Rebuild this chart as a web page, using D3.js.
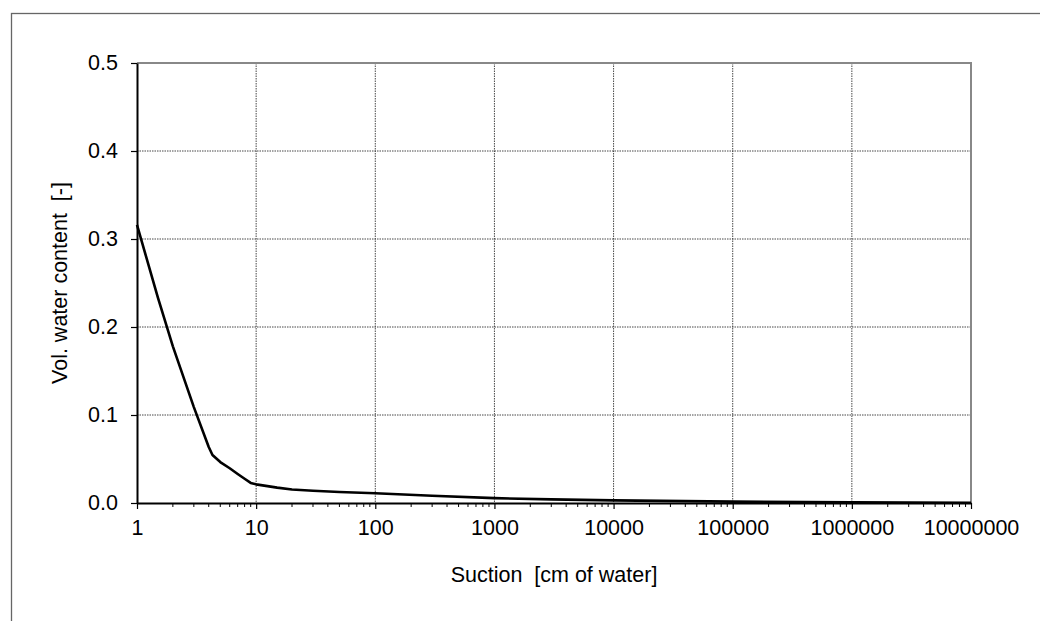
<!DOCTYPE html>
<html>
<head>
<meta charset="utf-8">
<script src="https://cdn.jsdelivr.net/npm/d3@7"></script>
<style>
  body { margin: 0; background: #fff; }
  text { font-family: "Liberation Sans", Arial, sans-serif; fill: #000; white-space: pre; }
</style>
</head>
<body>
<div id="chart"></div>
<script>
'use strict';

// suction [cm of water] and vol. water content [-]
var suction = [1, 1.5, 2, 3, 4, 4.3, 5, 6, 7, 8, 9, 10, 15, 20, 30, 50, 100, 300, 1000, 3000, 10000, 100000, 1000000, 10000000];
var theta   = [0.316, 0.233, 0.178, 0.109, 0.0636, 0.0545, 0.0465, 0.0395, 0.033, 0.0275, 0.0228, 0.0212, 0.0175, 0.0153, 0.014, 0.0125, 0.011, 0.0083, 0.0055, 0.0041, 0.003, 0.0016, 0.0008, 0.0002];
var yTicks  = [0, 0.1, 0.2, 0.3, 0.4, 0.5];
var xTicks  = [1, 10, 100, 1000, 10000, 100000, 1000000, 10000000];

function PlotRetention(config) {
	var domNode   = config.domNode;
	var svgWidth  = config.width;
	var svgHeight = config.height;
	var margin    = config.margin;
	var fontSize  = config.fontSize;

	var svg = d3.select(domNode)
		.append('svg')
		.attr('width', svgWidth)
		.attr('height', svgHeight);

	// outer chart frame
	svg.append('rect')
		.attr('x', 11.5).attr('y', 13.5)
		.attr('width', 1100).attr('height', 700)
		.attr('fill', 'none')
		.attr('stroke', '#666')
		.attr('stroke-width', 1.3);

	var width  = svgWidth - margin.left - margin.right,
		height = svgHeight - margin.top - margin.bottom;

	var g = svg.append('g').attr('transform', 'translate(' + [margin.left, margin.top] + ')');

	var x = d3.scaleLog().domain([1, 1e7]).range([0, width]);
	var y = d3.scaleLinear().domain([0, 0.5]).range([height, 0]);

	// grid
	g.selectAll('.vgrid')
		.data(xTicks.slice(1, -1))
		.enter().append('line')
		.attr('x1', function(d) { return x(d); })
		.attr('x2', function(d) { return x(d); })
		.attr('y1', 0).attr('y2', height)
		.attr('stroke', '#333')
		.attr('stroke-width', 0.9)
		.attr('stroke-dasharray', '1.5,1');

	g.selectAll('.hgrid')
		.data(yTicks.slice(1, -1))
		.enter().append('line')
		.attr('x1', 0).attr('x2', width)
		.attr('y1', function(d) { return y(d); })
		.attr('y2', function(d) { return y(d); })
		.attr('stroke', '#333')
		.attr('stroke-width', 0.9)
		.attr('stroke-dasharray', '1.5,1');

	// plot area top / right border
	g.append('path')
		.attr('d', 'M0,0H' + width + 'V' + height)
		.attr('fill', 'none')
		.attr('stroke', '#888')
		.attr('stroke-width', 2);

	// minor ticks on x
	var minor = [];
	xTicks.slice(0, -1).forEach(function(p) {
		for (var k = 2; k <= 9; k++) minor.push(p * k);
	});
	g.selectAll('.minor')
		.data(minor)
		.enter().append('line')
		.attr('x1', function(d) { return x(d); })
		.attr('x2', function(d) { return x(d); })
		.attr('y1', height).attr('y2', height + 4)
		.attr('stroke', '#000')
		.attr('stroke-width', 1);

	var xAxis = d3.axisBottom(x)
		.tickValues(xTicks)
		.tickFormat(d3.format('d'))
		.tickSize(6)
		.tickSizeOuter(0)
		.tickPadding(11);

	var yAxis = d3.axisLeft(y)
		.tickValues(yTicks)
		.tickFormat(d3.format('.1f'))
		.tickSize(6)
		.tickSizeOuter(0)
		.tickPadding(13);

	var gx = g.append('g')
		.attr('transform', 'translate(0,' + height + ')')
		.call(xAxis);
	gx.select('.domain').attr('stroke-width', 2);
	gx.selectAll('.tick line').attr('stroke-width', 1.2);
	gx.selectAll('text').style('font-size', fontSize);

	var gy = g.append('g').call(yAxis);
	gy.select('.domain').attr('stroke-width', 2);
	gy.selectAll('.tick line').attr('stroke-width', 1.2);
	gy.selectAll('text').style('font-size', fontSize);

	// retention curve
	var line = d3.line()
		.x(function(d, i) { return x(suction[i]); })
		.y(function(d) { return y(d); });

	g.append('path')
		.datum(theta)
		.attr('d', line)
		.attr('fill', 'none')
		.attr('stroke', '#000')
		.attr('stroke-width', 2.6)
		.attr('stroke-linejoin', 'round');

	// titles
	svg.append('text')
		.attr('x', margin.left + width / 2)
		.attr('y', 582)
		.attr('text-anchor', 'middle')
		.style('font-size', fontSize)
		.text('Suction  [cm of water]');

	svg.append('text')
		.attr('transform', 'translate(' + [67, margin.top + height / 2] + ') rotate(-90)')
		.attr('text-anchor', 'middle')
		.style('font-size', fontSize)
		.text('Vol. water content  [-]');
}

PlotRetention({
	domNode: '#chart',
	width: 1040,
	height: 621,
	fontSize: '21.5px',
	margin: { top: 63, right: 69, bottom: 118, left: 137 }
});
</script>
</body>
</html>
